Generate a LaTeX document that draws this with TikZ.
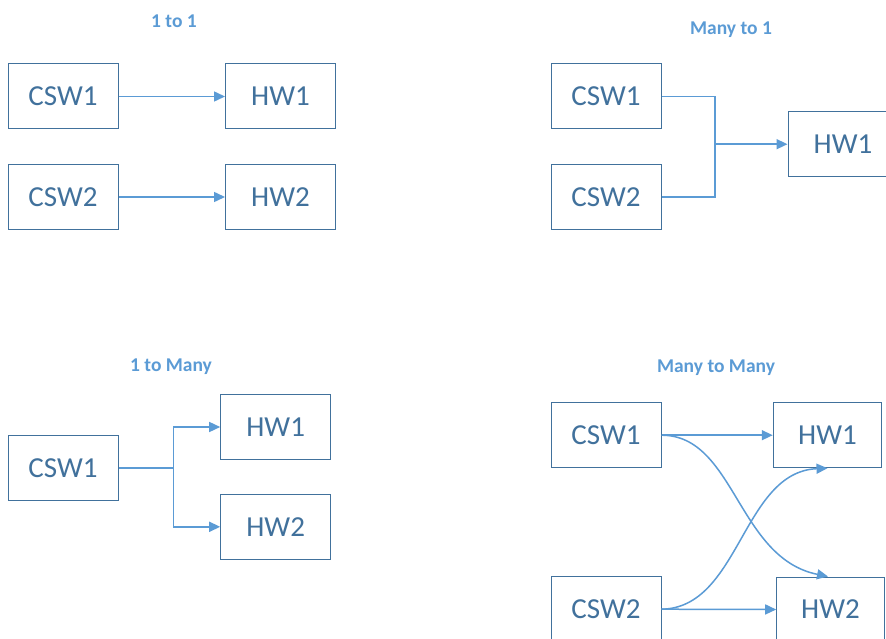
\documentclass[tikz,border=0pt]{standalone}
\usepackage{fontspec}
\setmainfont{Carlito}
\usetikzlibrary{arrows.meta}
\definecolor{boxline}{HTML}{41719C}
\definecolor{boxtext}{HTML}{41719C}
\definecolor{arrowc}{HTML}{5B9BD5}
\tikzset{
  unitbox/.style={draw=boxline, line width=1pt, minimum width=110pt, minimum height=65pt,
    inner sep=0pt, text=boxtext, font=\fontsize{29}{32}\selectfont},
  title/.style={text=arrowc, font=\fontsize{19.5}{22}\selectfont\bfseries, anchor=base, inner sep=0pt},
  conn/.style={draw=arrowc, line width=1.5pt, -{Triangle[length=11pt,width=10pt]}},
  plain/.style={draw=arrowc, line width=1.5pt}
}
\begin{document}
\begin{tikzpicture}[x=1pt,y=-1pt]
\useasboundingbox (0,0) rectangle (886,639);
\clip (0,0) rectangle (886,639);
\fill[white] (0,0) rectangle (886,639);

% 1 to 1
\node[title] (t1) at (174,27.3) {1 to 1};
\node[unitbox] (a1) at (63,96.5) {CSW1};
\node[unitbox] (ah1) at (280.5,96.5) {HW1};
\node[unitbox] (a2) at (63,197) {CSW2};
\node[unitbox] (ah2) at (280.5,197) {HW2};
\draw[conn] (a1) -- (ah1);
\draw[conn] (a2) -- (ah2);

% Many to 1
\node[title] (t2) at (731,34.3) {Many to 1};
\node[unitbox] (b1) at (606,96.5) {CSW1};
\node[unitbox] (b2) at (606,197) {CSW2};
\node[unitbox] (bh1) at (843,144.2) {HW1};
\coordinate (bj) at (715,144.2);
\draw[plain] (b1.east) -| (bj);
\draw[plain] (b2.east) -| (bj);
\draw[conn] (bj) -- (bh1.west);

% 1 to Many
\node[title] (t3) at (171,371.7) {1 to Many};
\node[unitbox] (c1) at (63,467.8) {CSW1};
\node[unitbox] (ch1) at (275.7,427) {HW1};
\node[unitbox] (ch2) at (275.7,526.8) {HW2};
\coordinate (cj) at (173.3,467.8);
\draw[plain] (c1.east) -- (cj);
\draw[conn] (cj) |- (ch1.west);
\draw[conn] (cj) |- (ch2.west);

% Many to Many
\node[title] (t4) at (716,372.3) {Many to Many};
\node[unitbox] (d1) at (606,435.2) {CSW1};
\node[unitbox, minimum width=108.5pt] (dh1) at (827.5,435.2) {HW1};
\node[unitbox] (d2) at (606,609.2) {CSW2};
\node[unitbox, minimum width=107.6pt] (dh2) at (830.5,609.5) {HW2};
\draw[conn] (d1.east) -- (dh1.west);
\draw[conn] (d2.east) -- (dh2.west);
\draw[conn] (d1.east) .. controls (735,435.2) and (737,558) .. ([xshift=-2.5pt]dh2.north);
\draw[conn] (d2.east) .. controls (740,608) and (742,472) .. (dh1.south);
\end{tikzpicture}
\end{document}
